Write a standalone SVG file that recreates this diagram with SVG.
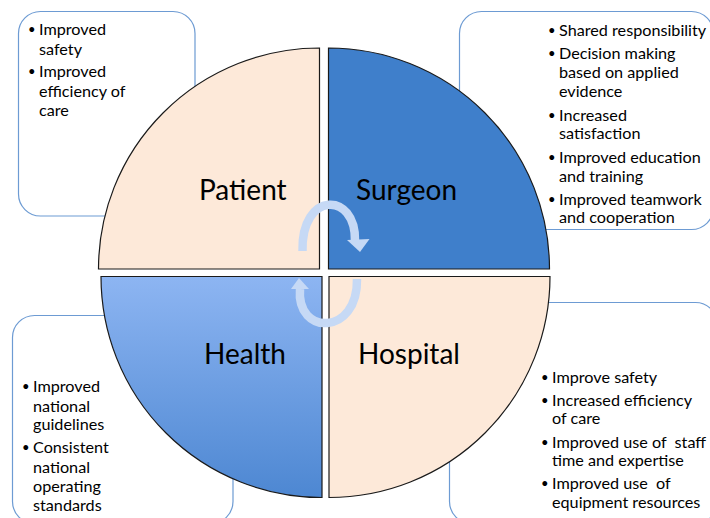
<svg xmlns="http://www.w3.org/2000/svg" width="710" height="518" viewBox="0 0 710 518">
<style>
.box{fill:#ffffff;stroke:#6d9bd3;stroke-width:1.2}
.q{stroke:#1a1a1a;stroke-width:1.2}
.peach{fill:#fde9d9}
.blue{fill:#3f7fcb}
.lbl{font-family:Lato,"Liberation Sans",sans-serif;font-size:28px;fill:#000}
.t{font-family:Lato,"Liberation Sans",sans-serif;font-size:16.2px;fill:#000}
.b{font-family:Lato,"Liberation Sans",sans-serif;font-size:13px;fill:#000}
.arc{fill:none;stroke:#c6d9f5;stroke-width:8.5}
.head{fill:#c6d9f5}
</style>
<defs>
<linearGradient id="hg" x1="0" y1="0" x2="0" y2="1">
<stop offset="0" stop-color="#8db5f2"/>
<stop offset="1" stop-color="#4d87d2"/>
</linearGradient>
</defs>
<rect width="710" height="518" fill="#ffffff"/>
<g id="box-patient"><rect class="box" x="18.5" y="11.5" width="176.5" height="204.5" rx="22"/>
<text class="b"><tspan x="28" y="34">•</tspan><tspan x="28" y="76">•</tspan></text>
<text class="t"><tspan x="39" y="35">Improved</tspan><tspan x="39" y="54.5">safety</tspan><tspan x="39" y="77">Improved</tspan><tspan x="39" y="96.5">efficiency of</tspan><tspan x="39" y="116">care</tspan></text></g>
<g id="box-surgeon"><rect class="box" x="459.5" y="11.5" width="254" height="218" rx="22"/>
<text class="b"><tspan x="548" y="35">•</tspan><tspan x="548" y="58.3">•</tspan><tspan x="548" y="119.7">•</tspan><tspan x="548" y="161.7">•</tspan><tspan x="548" y="204">•</tspan></text>
<text class="t"><tspan x="559" y="36">Shared responsibility</tspan><tspan x="559" y="59.3">Decision making</tspan><tspan x="559" y="78.3">based on applied</tspan><tspan x="559" y="97.3">evidence</tspan><tspan x="559" y="120.7">Increased</tspan><tspan x="559" y="139.3">satisfaction</tspan><tspan x="559" y="162.7">Improved education</tspan><tspan x="559" y="181.7">and training</tspan><tspan x="559" y="205">Improved teamwork</tspan><tspan x="559" y="223.3">and cooperation</tspan></text></g>
<g id="box-health"><rect class="box" x="12.5" y="315.5" width="220.5" height="208" rx="22"/>
<text class="b"><tspan x="22" y="390.7">•</tspan><tspan x="22" y="452.3">•</tspan></text>
<text class="t"><tspan x="33" y="391.7">Improved</tspan><tspan x="33" y="411.7">national</tspan><tspan x="33" y="430">guidelines</tspan><tspan x="33" y="453.3">Consistent</tspan><tspan x="33" y="472.7">national</tspan><tspan x="33" y="491.7">operating</tspan><tspan x="33" y="510.7">standards</tspan></text></g>
<g id="box-hospital"><rect class="box" x="449.5" y="302.5" width="268" height="221" rx="22"/>
<text class="b"><tspan x="541" y="381.7">•</tspan><tspan x="541" y="404.7">•</tspan><tspan x="541" y="446.7">•</tspan><tspan x="541" y="488.3">•</tspan></text>
<text class="t"><tspan x="552" y="382.7">Improve safety</tspan><tspan x="552" y="405.7">Increased efficiency</tspan><tspan x="552" y="424.3">of care</tspan><tspan x="552" y="447.7" xml:space="preserve">Improved use of  staff</tspan><tspan x="552" y="466">time and expertise</tspan><tspan x="552" y="489.3" xml:space="preserve">Improved use  of</tspan><tspan x="552" y="508.3">equipment resources</tspan></text></g>
<g id="patient"><path class="q peach" d="M319.5,269 L98.5,269 A221,221 0 0 1 319.5,48 Z"/><text class="lbl" x="199" y="200">Patient</text></g>
<g id="surgeon"><path class="q blue" d="M328.5,269 L328.5,48 A221,221 0 0 1 549.5,269 Z"/><text class="lbl" x="356" y="200">Surgeon</text></g>
<g id="health"><path class="q" fill="url(#hg)" d="M322,276.5 L322,497.5 A221,221 0 0 1 101,276.5 Z"/><text class="lbl" x="204" y="364">Health</text></g>
<g id="hospital"><path class="q peach" d="M329,276.5 L550,276.5 A221,221 0 0 1 329,497.5 Z"/><text class="lbl" x="358" y="364">Hospital</text></g>
<g id="connectors">
<path class="arc" d="M302.5,251 C301,191 356,191 355,241"/>
<polygon class="head" points="347,240 369.5,239 360,252"/>
<path class="arc" d="M357,279 C358,336 296,336 300,289"/>
<polygon class="head" points="291,289 309,289 299,278"/>
</g>
</svg>
